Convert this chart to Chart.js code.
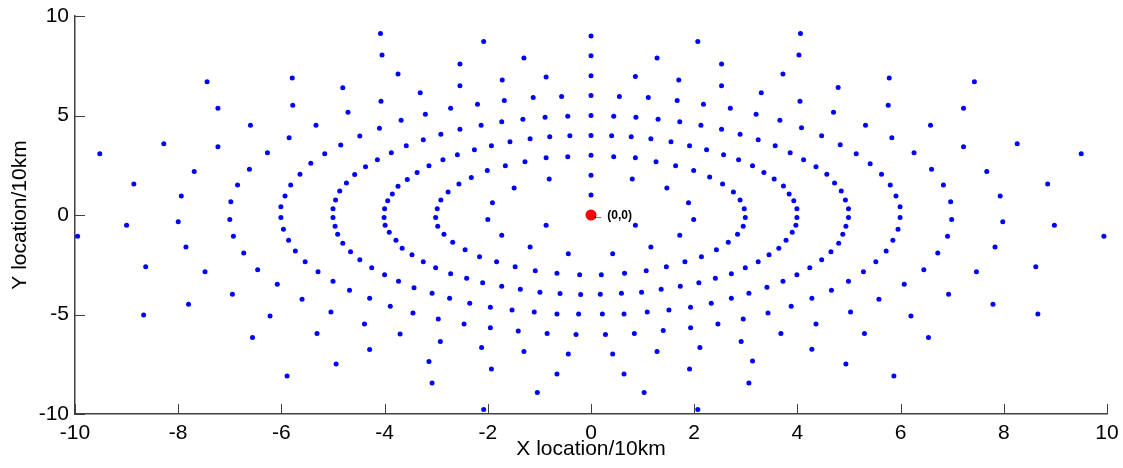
<!DOCTYPE html>
<html>
<head>
<meta charset="utf-8">
<script src="https://cdn.jsdelivr.net/npm/chart.js@4/dist/chart.umd.min.js"></script>
<style>
  html, body { margin: 0; padding: 0; background: #fff; }
  #wrap { width: 1123px; height: 468px; }
</style>
</head>
<body>
<div id="wrap"><canvas id="c" width="1123" height="468"></canvas></div>
<script>
'use strict';

// points, one pair of arrays per ring (radius 1..10)
var ring1X = [0, 0.86, -0.87];
var ring1Y = [1, -0.52, -0.52];

var ring2X = [0, 0.80, 1.47, 1.89, 1.99, 1.72, 1.16, 0.42, -0.81, -1.49, -1.91, -2.00, -1.73, -1.18, -0.44];
var ring2Y = [2, 1.81, 1.36, 0.61, -0.22, -1.02, -1.61, -1.95, 1.81, 1.36, 0.61, -0.22, -1.02, -1.61, -1.95];

var ring3X = [0, 0.44, 0.86, 1.26, 1.64, 1.99, 2.30, 2.55, 2.76, 2.89, 2.97, 2.99, 2.95, 2.84, 2.66, 2.43, 2.14, 1.82, 1.46, 1.07, 0.65, 0.20,
  -0.45, -0.87, -1.28, -1.66, -2.01, -2.32, -2.56, -2.77, -2.91, -2.98, -3.01, -2.97, -2.85, -2.68, -2.44, -2.16, -1.83, -1.47, -1.08, -0.66, -0.22];
var ring3Y = [3, 2.93, 2.88, 2.68, 2.48, 2.23, 1.91, 1.56, 1.16, 0.76, 0.31, -0.12, -0.57, -0.97, -1.37, -1.75, -2.10, -2.35, -2.60, -2.80, -2.93, -3.00,
  2.93, 2.88, 2.68, 2.48, 2.23, 1.89, 1.56, 1.16, 0.76, 0.31, -0.12, -0.57, -0.97, -1.37, -1.75, -2.10, -2.35, -2.60, -2.80, -2.93, -3.00];

var ring4X = [0, 0.40, 0.78, 1.16, 1.55, 1.91, 2.24, 2.57, 2.86, 3.13, 3.35, 3.55, 3.73, 3.84, 3.93, 3.99,
  3.99, 3.97, 3.90, 3.78, 3.64, 3.45, 3.24, 2.99, 2.72, 2.41, 2.09, 1.73, 1.36, 0.98, 0.59, 0.18,
  -0.41, -0.80, -1.18, -1.57, -1.93, -2.26, -2.59, -2.87, -3.14, -3.37, -3.56, -3.74, -3.85, -3.94, -4.00,
  -4.01, -3.99, -3.91, -3.78, -3.66, -3.47, -3.25, -3.01, -2.72, -2.41, -2.10, -1.73, -1.37, -0.99, -0.60, -0.20];
var ring4Y = [4, 3.98, 3.93, 3.83, 3.68, 3.48, 3.28, 3.03, 2.78, 2.48, 2.13, 1.81, 1.46, 1.06, 0.71, 0.31,
  -0.12, -0.52, -0.87, -1.27, -1.67, -2.00, -2.35, -2.65, -2.95, -3.18, -3.40, -3.58, -3.73, -3.88, -3.93, -3.98,
  3.98, 3.93, 3.83, 3.68, 3.48, 3.28, 3.03, 2.78, 2.48, 2.13, 1.79, 1.44, 1.06, 0.71, 0.31,
  -0.12, -0.52, -0.87, -1.27, -1.67, -2.00, -2.35, -2.65, -2.95, -3.18, -3.40, -3.58, -3.73, -3.88, -3.95, -4.00];

var ring5X = [0, 0.44, 0.87, 1.30, 1.72, 2.13, 2.53, 2.89, 3.24, 3.57, 3.86, 4.12, 4.36, 4.57, 4.72, 4.85, 4.93, 4.99,
  4.99, 4.94, 4.88, 4.80, 4.65, 4.47, 4.24, 3.99, 3.72, 3.41, 3.06, 2.72, 2.33, 1.93, 1.51, 1.09, 0.64, 0.22,
  -0.45, -0.89, -1.32, -1.73, -2.13, -2.54, -2.91, -3.25, -3.58, -3.87, -4.14, -4.37, -4.58, -4.74, -4.87, -4.95, -5.00,
  -5.00, -4.96, -4.91, -4.81, -4.66, -4.48, -4.25, -4.00, -3.73, -3.43, -3.08, -2.74, -2.35, -1.95, -1.53, -1.10, -0.66, -0.24];
var ring5Y = [5, 4.96, 4.91, 4.81, 4.68, 4.51, 4.31, 4.06, 3.78, 3.48, 3.13, 2.78, 2.43, 2.05, 1.61, 1.21, 0.76, 0.31,
  -0.12, -0.57, -0.97, -1.42, -1.85, -2.25, -2.65, -3.00, -3.33, -3.63, -3.93, -4.18, -4.43, -4.63, -4.78, -4.88, -4.98, -4.98,
  4.96, 4.91, 4.81, 4.68, 4.51, 4.31, 4.06, 3.78, 3.48, 3.13, 2.78, 2.43, 2.03, 1.61, 1.21, 0.76, 0.31,
  -0.12, -0.57, -0.97, -1.42, -1.85, -2.25, -2.65, -3.00, -3.33, -3.65, -3.93, -4.18, -4.43, -4.63, -4.78, -4.88, -4.98, -4.98];

var ring6X = [0, 0.55, 1.11, 1.67, 2.18, 2.70, 3.20, 3.66, 4.08, 4.47, 4.83, 5.14, 5.41, 5.63, 5.80, 5.91, 5.99,
  5.99, 5.95, 5.85, 5.72, 5.52, 5.28, 4.99, 4.66, 4.28, 3.88, 3.43, 2.95, 2.46, 1.93, 1.40, 0.84, 0.28,
  -0.57, -1.12, -1.68, -2.20, -2.72, -3.21, -3.68, -4.10, -4.48, -4.85, -5.16, -5.43, -5.64, -5.82, -5.93, -6.01,
  -6.01, -5.96, -5.86, -5.73, -5.54, -5.29, -5.00, -4.68, -4.29, -3.89, -3.45, -2.96, -2.46, -1.95, -1.41, -0.85, -0.29];
var ring6Y = [6, 5.96, 5.90, 5.76, 5.56, 5.36, 5.06, 4.76, 4.38, 3.98, 3.53, 3.08, 2.58, 2.05, 1.51, 0.96, 0.41,
  -0.12, -0.72, -1.27, -1.81, -2.35, -2.85, -3.33, -3.78, -4.18, -4.58, -4.93, -5.23, -5.48, -5.66, -5.81, -5.96, -6.01,
  5.96, 5.90, 5.75, 5.56, 5.36, 5.06, 4.76, 4.36, 3.97, 3.52, 3.08, 2.60, 2.05, 1.51, 0.96, 0.41,
  -0.12, -0.72, -1.27, -1.81, -2.35, -2.85, -3.33, -3.78, -4.18, -4.58, -4.93, -5.23, -5.48, -5.66, -5.83, -5.96, -6.01];

var ring7X = [0, 0.86, 1.70, 2.53, 3.30, 4.05, 4.70, 5.32, 5.83, 6.26, 6.60, 6.83, 6.97,
  6.99, 6.91, 6.72, 6.45, 6.07, 5.58, 5.03, 4.36, 3.68, 2.91, 2.11, 1.28, 0.42,
  -0.87, -1.72, -2.54, -3.31, -4.07, -4.71, -5.33, -5.85, -6.27, -6.62, -6.85, -6.98,
  -7.00, -6.93, -6.73, -6.46, -6.08, -5.60, -5.04, -4.39, -3.70, -2.92, -2.12, -1.30, -0.44];
var ring7Y = [7, 6.96, 6.79, 6.49, 6.14, 5.71, 5.16, 4.51, 3.88, 3.13, 2.30, 1.51, 0.66,
  -0.22, -1.07, -1.91, -2.75, -3.48, -4.23, -4.88, -5.48, -5.96, -6.36, -6.66, -6.86, -6.99,
  6.94, 6.79, 6.49, 6.14, 5.71, 5.16, 4.51, 3.88, 3.13, 2.30, 1.51, 0.66,
  -0.22, -1.07, -1.91, -2.75, -3.48, -4.23, -4.88, -5.48, -5.98, -6.36, -6.66, -6.86, -6.99];

var ring8X = [0, 1.28, 2.53, 3.72, 4.79, 5.76, 6.58, 7.22, 7.67, 7.93,
  7.98, 7.83, 7.47, 6.93, 6.20, 5.30, 4.28, 3.13, 1.91, 0.64,
  -1.30, -2.54, -3.74, -4.81, -5.78, -6.60, -7.23, -7.69, -7.94,
  -8.00, -7.85, -7.48, -6.95, -6.22, -5.31, -4.29, -3.14, -1.93, -0.66];
var ring8Y = [8, 7.89, 7.59, 7.09, 6.41, 5.51, 4.51, 3.43, 2.18, 0.96,
  -0.34, -1.61, -2.85, -3.98, -5.08, -5.96, -6.74, -7.34, -7.74, -7.99,
  7.89, 7.59, 7.09, 6.39, 5.51, 4.51, 3.43, 2.18, 0.96,
  -0.34, -1.61, -2.85, -3.98, -5.08, -5.96, -6.76, -7.36, -7.74, -7.99];

var ring9X = [0, 2.07, 4.03, 5.78, 7.22, 8.26, 8.85,
  8.98, 8.62, 7.79, 6.54, 4.94, 3.06, 1.03,
  -2.08, -4.05, -5.79, -7.23, -8.28, -8.86,
  -9.00, -8.63, -7.80, -6.56, -4.94, -3.08, -1.04];
var ring9Y = [9, 8.72, 8.04, 6.89, 5.36, 3.58, 1.56,
  -0.52, -2.60, -4.48, -6.16, -7.49, -8.44, -8.92,
  8.72, 8.04, 6.89, 5.36, 3.58, 1.56,
  -0.52, -2.60, -4.48, -6.16, -7.49, -8.44, -8.92];

var ring10X = [4.06, 7.43, 9.50, 9.94, 8.66, 5.87, 2.07,
  -4.08, -7.44, -9.52, -9.95, -8.67, -5.89, -2.08];
var ring10Y = [9.12, 6.69, 3.08, -1.07, -4.98, -8.09, -9.77,
  9.12, 6.69, 3.08, -1.07, -5.03, -8.09, -9.77];

var originX = [0];
var originY = [0];
var originLabel = '\u2190 (0,0)';

var xTicks = [-10, -8, -6, -4, -2, 0, 2, 4, 6, 8, 10];
var yTicks = [-10, -5, 0, 5, 10];
var xTitle = 'X location/10km';
var yTitle = 'Y location/10km';

var FONT = '"Liberation Sans", Arial, Helvetica, sans-serif';
var AXIS = '#404040';

function toPoints(xs, ys) {
  return xs.map(function(x, i) { return { x: x, y: ys[i] }; });
}

var rings = [
  [ring1X, ring1Y], [ring2X, ring2Y], [ring3X, ring3Y], [ring4X, ring4Y], [ring5X, ring5Y],
  [ring6X, ring6Y], [ring7X, ring7Y], [ring8X, ring8Y], [ring9X, ring9Y], [ring10X, ring10Y]
];

var datasets = rings.map(function(r) {
  return {
    data: toPoints(r[0], r[1]),
    pointRadius: 2.5,
    pointBackgroundColor: '#0000ff',
    pointBorderWidth: 0,
    showLine: false,
    clip: false
  };
});
datasets.push({
  data: toPoints(originX, originY),
  pointRadius: 5.5,
  pointBackgroundColor: '#ff0000',
  pointBorderWidth: 0,
  showLine: false,
  clip: false
});

// inward tick marks + the origin note
var extras = {
  id: 'extras',
  afterDraw: function(chart) {
    var ctx = chart.ctx;
    var xs = chart.scales.x;
    var ys = chart.scales.y;
    var area = chart.chartArea;
    ctx.save();
    ctx.strokeStyle = AXIS;
    ctx.lineWidth = 1;
    ctx.beginPath();
    xTicks.forEach(function(v) {
      var px = Math.round(xs.getPixelForValue(v)) + 0.5;
      ctx.moveTo(px, area.bottom);
      ctx.lineTo(px, area.bottom - 10);
    });
    yTicks.forEach(function(v) {
      var py = Math.round(ys.getPixelForValue(v)) + 0.5;
      ctx.moveTo(area.left, py);
      ctx.lineTo(area.left + 10, py);
    });
    ctx.stroke();

    ctx.fillStyle = '#000';
    ctx.font = 'bold 12px ' + FONT;
    ctx.textBaseline = 'middle';
    ctx.textAlign = 'left';
    ctx.fillText(originLabel, xs.getPixelForValue(originX[0]) + 1, ys.getPixelForValue(originY[0]) + 1);
    ctx.restore();
  }
};

new Chart(document.getElementById('c'), {
  type: 'scatter',
  data: { datasets: datasets },
  plugins: [extras],
  options: {
    responsive: false,
    animation: false,
    devicePixelRatio: 1,
    layout: { padding: { top: 16, right: 16, left: 0, bottom: 0 }, autoPadding: false },
    plugins: { legend: { display: false }, tooltip: { enabled: false } },
    scales: {
      x: {
        type: 'linear',
        min: -10, max: 10,
        grid: { display: false, drawTicks: false },
        border: { display: true, color: AXIS, width: 1.5 },
        afterBuildTicks: function(s) { s.ticks = xTicks.map(function(v) { return { value: v }; }); },
        afterFit: function(s) { s.height = 54; s.paddingLeft = 0; s.paddingRight = 0; },
        ticks: { color: '#000', padding: 7, autoSkip: false, maxRotation: 0, font: { family: FONT, size: 21 } },
        title: { display: true, text: xTitle, color: '#000', padding: { top: 0, bottom: 6 }, font: { family: FONT, size: 21 } }
      },
      y: {
        type: 'linear',
        min: -10, max: 10,
        grid: { display: false, drawTicks: false },
        border: { display: true, color: AXIS, width: 1.5 },
        afterBuildTicks: function(s) { s.ticks = yTicks.map(function(v) { return { value: v }; }); },
        afterFit: function(s) { s.width = 75; s.paddingTop = 0; s.paddingBottom = 0; },
        ticks: { color: '#000', padding: 6, autoSkip: false, font: { family: FONT, size: 21 } },
        title: { display: true, text: yTitle, color: '#000', padding: { top: 8, bottom: 0 }, font: { family: FONT, size: 21 } }
      }
    }
  }
});
</script>
</body>
</html>
